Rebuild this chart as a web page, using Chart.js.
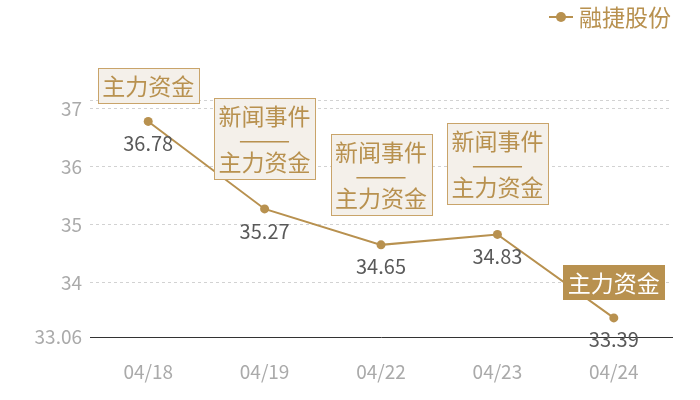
<!DOCTYPE html>
<html>
<head>
<meta charset="utf-8">
<script src="https://cdn.jsdelivr.net/npm/chart.js@4.4.1/dist/chart.umd.min.js"></script>
<style>
  html, body { margin: 0; padding: 0; background: #fff; }
  #wrap { width: 700px; height: 400px; }
</style>
</head>
<body>
<div id="wrap"><canvas id="c" width="700" height="400"></canvas></div>
<script>
// ---------- Data ----------
const dates = ['04/18', '04/19', '04/22', '04/23', '04/24'];
const prices = [36.78, 35.27, 34.65, 34.83, 33.39];
const yTicks = [33.06, 34, 35, 36, 37, 37.15];
const notes = [
  ['主力资金'],
  ['新闻事件', '——', '主力资金'],
  ['新闻事件', '——', '主力资金'],
  ['新闻事件', '——', '主力资金'],
  ['主力资金'],
];
const highlighted = [false, false, false, false, true];
const seriesName = '融捷股份';

const GOLD = '#b8914f';
const FONT = '"Noto Sans CJK SC", "Noto Sans", sans-serif';

// value labels under each point
const valueLabels = {
  id: 'valueLabels',
  afterDatasetsDraw(chart) {
    const { ctx } = chart;
    const meta = chart.getDatasetMeta(0);
    ctx.save();
    ctx.font = '20px ' + FONT;
    ctx.fillStyle = '#595959';
    ctx.textAlign = 'center';
    ctx.textBaseline = 'middle';
    meta.data.forEach((pt, i) => {
      ctx.fillText(prices[i].toFixed(2), pt.x, pt.y + 22);
    });
    ctx.restore();
  },
};

// note boxes above points
const noteBoxes = {
  id: 'noteBoxes',
  afterDatasetsDraw(chart) {
    const { ctx } = chart;
    const meta = chart.getDatasetMeta(0);
    ctx.save();
    ctx.font = '23px ' + FONT;
    ctx.textAlign = 'center';
    ctx.textBaseline = 'middle';
    const w = 101;
    const lh = 23;
    meta.data.forEach((pt, i) => {
      const lines = notes[i];
      const h = lines.length * lh + 12;
      const gap = lines.length > 1 ? 30 : 18;
      const bottom = pt.y - gap;
      const top = Math.round(bottom - h);
      const left = Math.round(pt.x - w / 2) + 0.5;
      if (highlighted[i]) {
        ctx.fillStyle = GOLD;
        ctx.fillRect(left - 0.5, top, w + 1, h);
      } else {
        ctx.fillStyle = '#f4f0ea';
        ctx.fillRect(left, top, w, h);
        ctx.strokeStyle = '#c9a46a';
        ctx.lineWidth = 1;
        ctx.strokeRect(left, top + 0.5, w, h);
      }
      ctx.fillStyle = highlighted[i] ? '#fff' : GOLD;
      lines.forEach((t, k) => {
        const cy = top + 6 + lh / 2 + k * lh + 1;
        if (t === '——') {
          // stretch the dash text to the width seen in the chart
          const tw = ctx.measureText(t).width;
          ctx.save();
          ctx.translate(pt.x, cy);
          ctx.scale(52 / tw, 1);
          ctx.fillText(t, 0, 0);
          ctx.restore();
        } else {
          ctx.fillText(t, pt.x, cy);
        }
      });
    });
    ctx.restore();
  },
};

// legend top right
const topLegend = {
  id: 'topLegend',
  afterDraw(chart) {
    const { ctx } = chart;
    ctx.save();
    ctx.font = '23px ' + FONT;
    ctx.textBaseline = 'middle';
    ctx.textAlign = 'left';
    const y = 17;
    ctx.strokeStyle = GOLD;
    ctx.lineWidth = 2;
    ctx.beginPath();
    ctx.moveTo(549, y);
    ctx.lineTo(573, y);
    ctx.stroke();
    ctx.fillStyle = GOLD;
    ctx.beginPath();
    ctx.arc(561, y, 5, 0, Math.PI * 2);
    ctx.fill();
    ctx.fillText(seriesName, 579, y);
    ctx.restore();
  },
};

new Chart(document.getElementById('c'), {
  type: 'line',
  data: {
    labels: dates,
    datasets: [{
      label: seriesName,
      data: prices,
      borderColor: GOLD,
      backgroundColor: GOLD,
      borderWidth: 2,
      pointRadius: 4.5,
      pointBackgroundColor: GOLD,
      pointBorderWidth: 0,
      tension: 0,
    }],
  },
  options: {
    responsive: false,
    animation: false,
    devicePixelRatio: 1,
    layout: { padding: { top: 100, right: 28, left: 0, bottom: 0 } },
    plugins: { legend: { display: false }, tooltip: { enabled: false } },
    scales: {
      x: {
        offset: true,
        grid: { display: false, drawTicks: false },
        border: { color: '#333', width: 1 },
        ticks: { color: '#aaa', font: { size: 19, family: FONT }, padding: 23 },
        afterFit(s) { s.height = 63; },
      },
      y: {
        min: 33.06,
        max: 37.15,
        border: { display: false, dash: [3, 3] },
        grid: {
          color: (c) => (c.tick && c.tick.value === 33.06 ? 'rgba(0,0,0,0)' : '#d2d2d2'),
          drawTicks: false,
        },
        ticks: {
          color: '#aaa',
          font: { size: 19, family: FONT },
          padding: 8,
          callback: (v) => (v === 37.15 ? '' : String(v)),
        },
        afterBuildTicks(s) { s.ticks = yTicks.map((v) => ({ value: v })); },
        afterFit(s) { s.width = 90; },
      },
    },
  },
  plugins: [valueLabels, noteBoxes, topLegend],
});
</script>
</body>
</html>
